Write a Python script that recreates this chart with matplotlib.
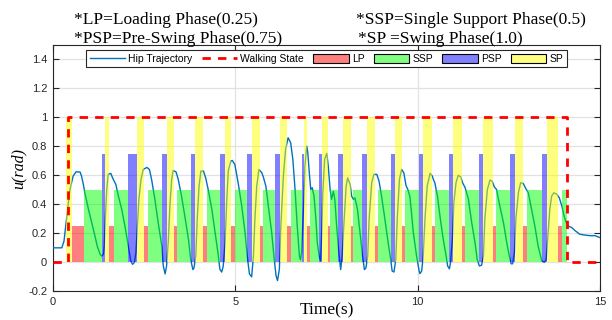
import matplotlib
matplotlib.use("Agg")
import matplotlib.pyplot as plt
from matplotlib.lines import Line2D
from matplotlib.patches import Patch
import numpy as np

# ---------------- data ----------------
hip_t = [0.00, 0.25, 0.31, 0.38, 0.47, 0.56, 0.64, 0.75, 0.79, 0.84, 0.88, 0.98, 1.07, 1.16, 1.22, 1.30,
         1.34, 1.39, 1.41, 1.44, 1.48, 1.52, 1.59, 1.66, 1.73, 1.80, 1.89, 1.98, 2.07, 2.14, 2.19, 2.24,
         2.28, 2.32, 2.36, 2.42, 2.48, 2.58, 2.65, 2.71, 2.80, 2.89, 2.99, 3.03, 3.08, 3.12, 3.17, 3.21,
         3.26, 3.30, 3.38, 3.44, 3.53, 3.62, 3.72, 3.78, 3.84, 3.87, 3.92, 3.96, 4.01, 4.06, 4.13, 4.19,
         4.26, 4.36, 4.45, 4.54, 4.58, 4.63, 4.67, 4.72, 4.77, 4.81, 4.88, 4.92, 4.99, 5.08, 5.18, 5.27,
         5.33, 5.39, 5.45, 5.50, 5.54, 5.59, 5.65, 5.73, 5.77, 5.84, 5.91, 6.00, 6.07, 6.12, 6.16, 6.21,
         6.25, 6.32, 6.38, 6.45, 6.52, 6.58, 6.64, 6.70, 6.76, 6.79, 6.82, 6.87, 6.91, 6.96, 6.99, 7.03,
         7.07, 7.11, 7.16, 7.21, 7.25, 7.30, 7.34, 7.37, 7.40, 7.45, 7.51, 7.55, 7.60, 7.64, 7.69, 7.73,
         7.78, 7.84, 7.89, 7.93, 7.98, 8.04, 8.08, 8.15, 8.19, 8.24, 8.28, 8.35, 8.42, 8.49, 8.54, 8.58,
         8.63, 8.67, 8.74, 8.80, 8.88, 8.94, 9.01, 9.10, 9.19, 9.26, 9.30, 9.35, 9.40, 9.44, 9.50, 9.56,
         9.62, 9.68, 9.73, 9.79, 9.88, 9.97, 10.04, 10.06, 10.11, 10.15, 10.20, 10.26, 10.34, 10.40, 10.43,
         10.47, 10.54, 10.61, 10.70, 10.78, 10.82, 10.87, 10.90, 10.95, 10.99, 11.05, 11.11, 11.18, 11.23,
         11.30, 11.39, 11.48, 11.57, 11.63, 11.69, 11.75, 11.80, 11.84, 11.91, 11.98, 12.04, 12.10, 12.16,
         12.25, 12.35, 12.44, 12.51, 12.56, 12.60, 12.65, 12.69, 12.76, 12.82, 12.89, 12.96, 13.03, 13.12,
         13.21, 13.30, 13.40, 13.47, 13.52, 13.56, 13.62, 13.67, 13.73, 13.81, 13.88, 13.95, 14.01, 14.07,
         14.13, 14.22, 14.31, 14.44, 14.58, 14.72, 14.86, 15.00]
hip_u = [0.100, 0.100, 0.147, 0.300, 0.500, 0.595, 0.625, 0.623, 0.595, 0.538, 0.480, 0.366, 0.274, 0.180, 0.112, 0.055,
         0.043, 0.055, 0.110, 0.300, 0.500, 0.607, 0.614, 0.572, 0.538, 0.457, 0.366, 0.250, 0.112, 0.009, -0.014, 0.000,
         0.067, 0.250, 0.434, 0.572, 0.641, 0.655, 0.641, 0.572, 0.434, 0.274, 0.112, -0.025, -0.080, -0.025, 0.159, 0.388,
         0.572, 0.634, 0.624, 0.572, 0.457, 0.319, 0.159, 0.021, -0.050, -0.040, 0.043, 0.300, 0.526, 0.630, 0.630, 0.584,
         0.503, 0.366, 0.205, 0.043, -0.048, -0.067, -0.030, 0.130, 0.434, 0.630, 0.699, 0.703, 0.676, 0.550, 0.388, 0.205,
         0.043, -0.080, -0.100, 0.043, 0.300, 0.526, 0.641, 0.618, 0.590, 0.526, 0.388, 0.205, 0.021, -0.094, -0.126, -0.048,
         0.250, 0.595, 0.779, 0.860, 0.825, 0.710, 0.503, 0.250, 0.043, 0.016, 0.067, 0.366, 0.664, 0.802, 0.756, 0.618,
         0.503, 0.515, 0.457, 0.300, 0.136, 0.043, 0.010, 0.200, 0.480, 0.710, 0.752, 0.664, 0.503, 0.434, 0.490, 0.434,
         0.250, 0.067, -0.050, 0.043, 0.274, 0.526, 0.583, 0.538, 0.457, 0.434, 0.445, 0.366, 0.205, 0.043, -0.050, -0.040,
         0.043, 0.300, 0.549, 0.607, 0.607, 0.561, 0.457, 0.300, 0.136, 0.021, -0.060, -0.067, 0.021, 0.300, 0.572, 0.641,
         0.618, 0.530, 0.503, 0.450, 0.205, 0.043, -0.060, -0.078, -0.060, 0.043, 0.300, 0.526, 0.614, 0.595, 0.572,
         0.549, 0.457, 0.319, 0.159, 0.043, -0.025, -0.045, 0.000, 0.159, 0.411, 0.549, 0.600, 0.590, 0.549,
         0.515, 0.434, 0.274, 0.136, 0.021, -0.025, -0.020, 0.043, 0.300, 0.503, 0.568, 0.560, 0.520, 0.503,
         0.388, 0.274, 0.136, 0.043, -0.010, -0.010, 0.067, 0.300, 0.480, 0.549, 0.545, 0.510, 0.480, 0.366,
         0.250, 0.112, 0.009, 0.000, 0.020, 0.159, 0.366, 0.457, 0.480, 0.470, 0.445, 0.388, 0.319, 0.274,
         0.250, 0.240, 0.219, 0.194, 0.188, 0.184, 0.184, 0.170]

state_t = [0.0, 0.41, 14.08, 15.0]
state_v = [0.0, 1.0, 0.0, 0.0]

phase_starts = [0.356, 0.521, 0.858, 1.359,
                1.433, 1.556, 1.666, 2.068,
                2.304, 2.507, 2.619, 2.995,
                3.123, 3.329, 3.419, 3.781,
                3.907, 4.126, 4.219, 4.584,
                4.712, 4.893, 4.995, 5.332,
                5.460, 5.679, 5.770, 6.090,
                6.227, 6.411, 6.529, 6.822,
                6.893, 6.975, 7.049, 7.296,
                7.386, 7.534, 7.597, 7.825,
                7.962, 8.164, 8.236, 8.482,
                8.619, 8.830, 8.921, 9.260,
                9.378, 9.578, 9.652, 10.036,
                10.153, 10.384, 10.482, 10.866,
                10.975, 11.205, 11.296, 11.679,
                11.797, 12.055, 12.145, 12.529,
                12.666, 12.893, 12.986, 13.414,
                13.542, 13.852, 13.962]
phase_end = 14.082
phase_seq = ['SP', 'LP', 'SSP', 'PSP'] * 17 + ['SP', 'LP', 'SSP']

phase_names = ['LP', 'SSP', 'PSP', 'SP']
phase_levels = {'LP': 0.25, 'SSP': 0.5, 'PSP': 0.75, 'SP': 1.0}
phase_colors = {'LP': (1, 0, 0), 'SSP': (0, 1, 0), 'PSP': (0, 0, 1), 'SP': (1, 1, 0)}

xticks = [0, 5, 10, 15]
yticks = [-0.2, 0, 0.2, 0.4, 0.6, 0.8, 1.0, 1.2, 1.4]
ytick_labels = ['-0.2', '0', '0.2', '0.4', '0.6', '0.8', '1', '1.2', '1.4']

header = [("*LP=Loading Phase(0.25)", "*SSP=Single Support Phase(0.5)"),
          ("*PSP=Pre-Swing Phase(0.75)", "*SP =Swing Phase(1.0)")]

# ---------------- plot ----------------
SERIF = ['Liberation Serif', 'DejaVu Serif']
SANS = ['Liberation Sans', 'DejaVu Sans']
plt.rcParams['font.family'] = SANS

fig = plt.figure(figsize=(6.12, 3.2), dpi=100)
ax = fig.add_axes([0.0861, 0.0897, 0.8946, 0.7697])

dark = '#262626'
ax.plot(hip_t, hip_u, color='#0072BD', lw=1.0, zorder=3)

ends = phase_starts[1:] + [phase_end]
for name in phase_names:
    xs = [s for s, p in zip(phase_starts, phase_seq) if p == name]
    ws = [e - s for s, e, p in zip(phase_starts, ends, phase_seq) if p == name]
    hs = [phase_levels[name]] * len(xs)
    ax.bar(xs, hs, width=ws, align='edge', color=phase_colors[name], alpha=0.5,
           linewidth=0, zorder=4)

ax.plot(state_t, state_v, drawstyle='steps-post', color='red', lw=2.0,
        dashes=(3.0, 2.6), zorder=5)

ax.set_xlim(0, 15)
ax.set_ylim(-0.2, 1.5)
ax.set_xticks(xticks)
ax.set_xticklabels([str(v) for v in xticks])
ax.set_yticks(yticks)
ax.set_yticklabels(ytick_labels)
ax.grid(True, color='#e2e2e2', lw=0.9, zorder=0)
ax.set_axisbelow(True)
ax.tick_params(direction='in', length=4.5, width=0.8, colors=dark, labelsize=8,
               top=True, right=True, pad=4)
for sp in ax.spines.values():
    sp.set_color(dark)
    sp.set_linewidth(0.8)

ax.set_xlabel('Time(s)', family=SERIF, fontsize=12.5, color='black', labelpad=-3.5)
ax.set_ylabel('u(rad)', family=SERIF, fontsize=11.5, style='italic', color='black', labelpad=1)

handles = [Line2D([], [], color='#0072BD', lw=1.0),
           Line2D([], [], color='red', lw=2.0, dashes=(3.0, 2.6))]
for name in phase_names:
    c = phase_colors[name]
    handles.append(Patch(facecolor=(c[0], c[1], c[2], 0.5), edgecolor='black', lw=0.8))
labels = ['Hip Trajectory', 'Walking State'] + phase_names
leg = ax.legend(handles, labels, ncol=6, loc='upper center', bbox_to_anchor=(0.5, 0.98),
                fontsize=7.5, frameon=True, fancybox=False, framealpha=1,
                handlelength=3.4, handleheight=1.0, handletextpad=0.3,
                columnspacing=0.9, borderpad=0.35, borderaxespad=0)
leg.get_frame().set_edgecolor(dark)
leg.get_frame().set_linewidth(0.8)

fig.text(74.5 / 612, 1 - 24 / 320, header[0][0], family=SERIF, fontsize=12.5, va='baseline')
fig.text(355.5 / 612, 1 - 24 / 320, header[0][1], family=SERIF, fontsize=12.5, va='baseline')
fig.text(74.5 / 612, 1 - 43 / 320, header[1][0], family=SERIF, fontsize=12.5, va='baseline')
fig.text(357.5 / 612, 1 - 43 / 320, header[1][1], family=SERIF, fontsize=12.5, va='baseline')

fig.savefig('out.png', dpi=100)
